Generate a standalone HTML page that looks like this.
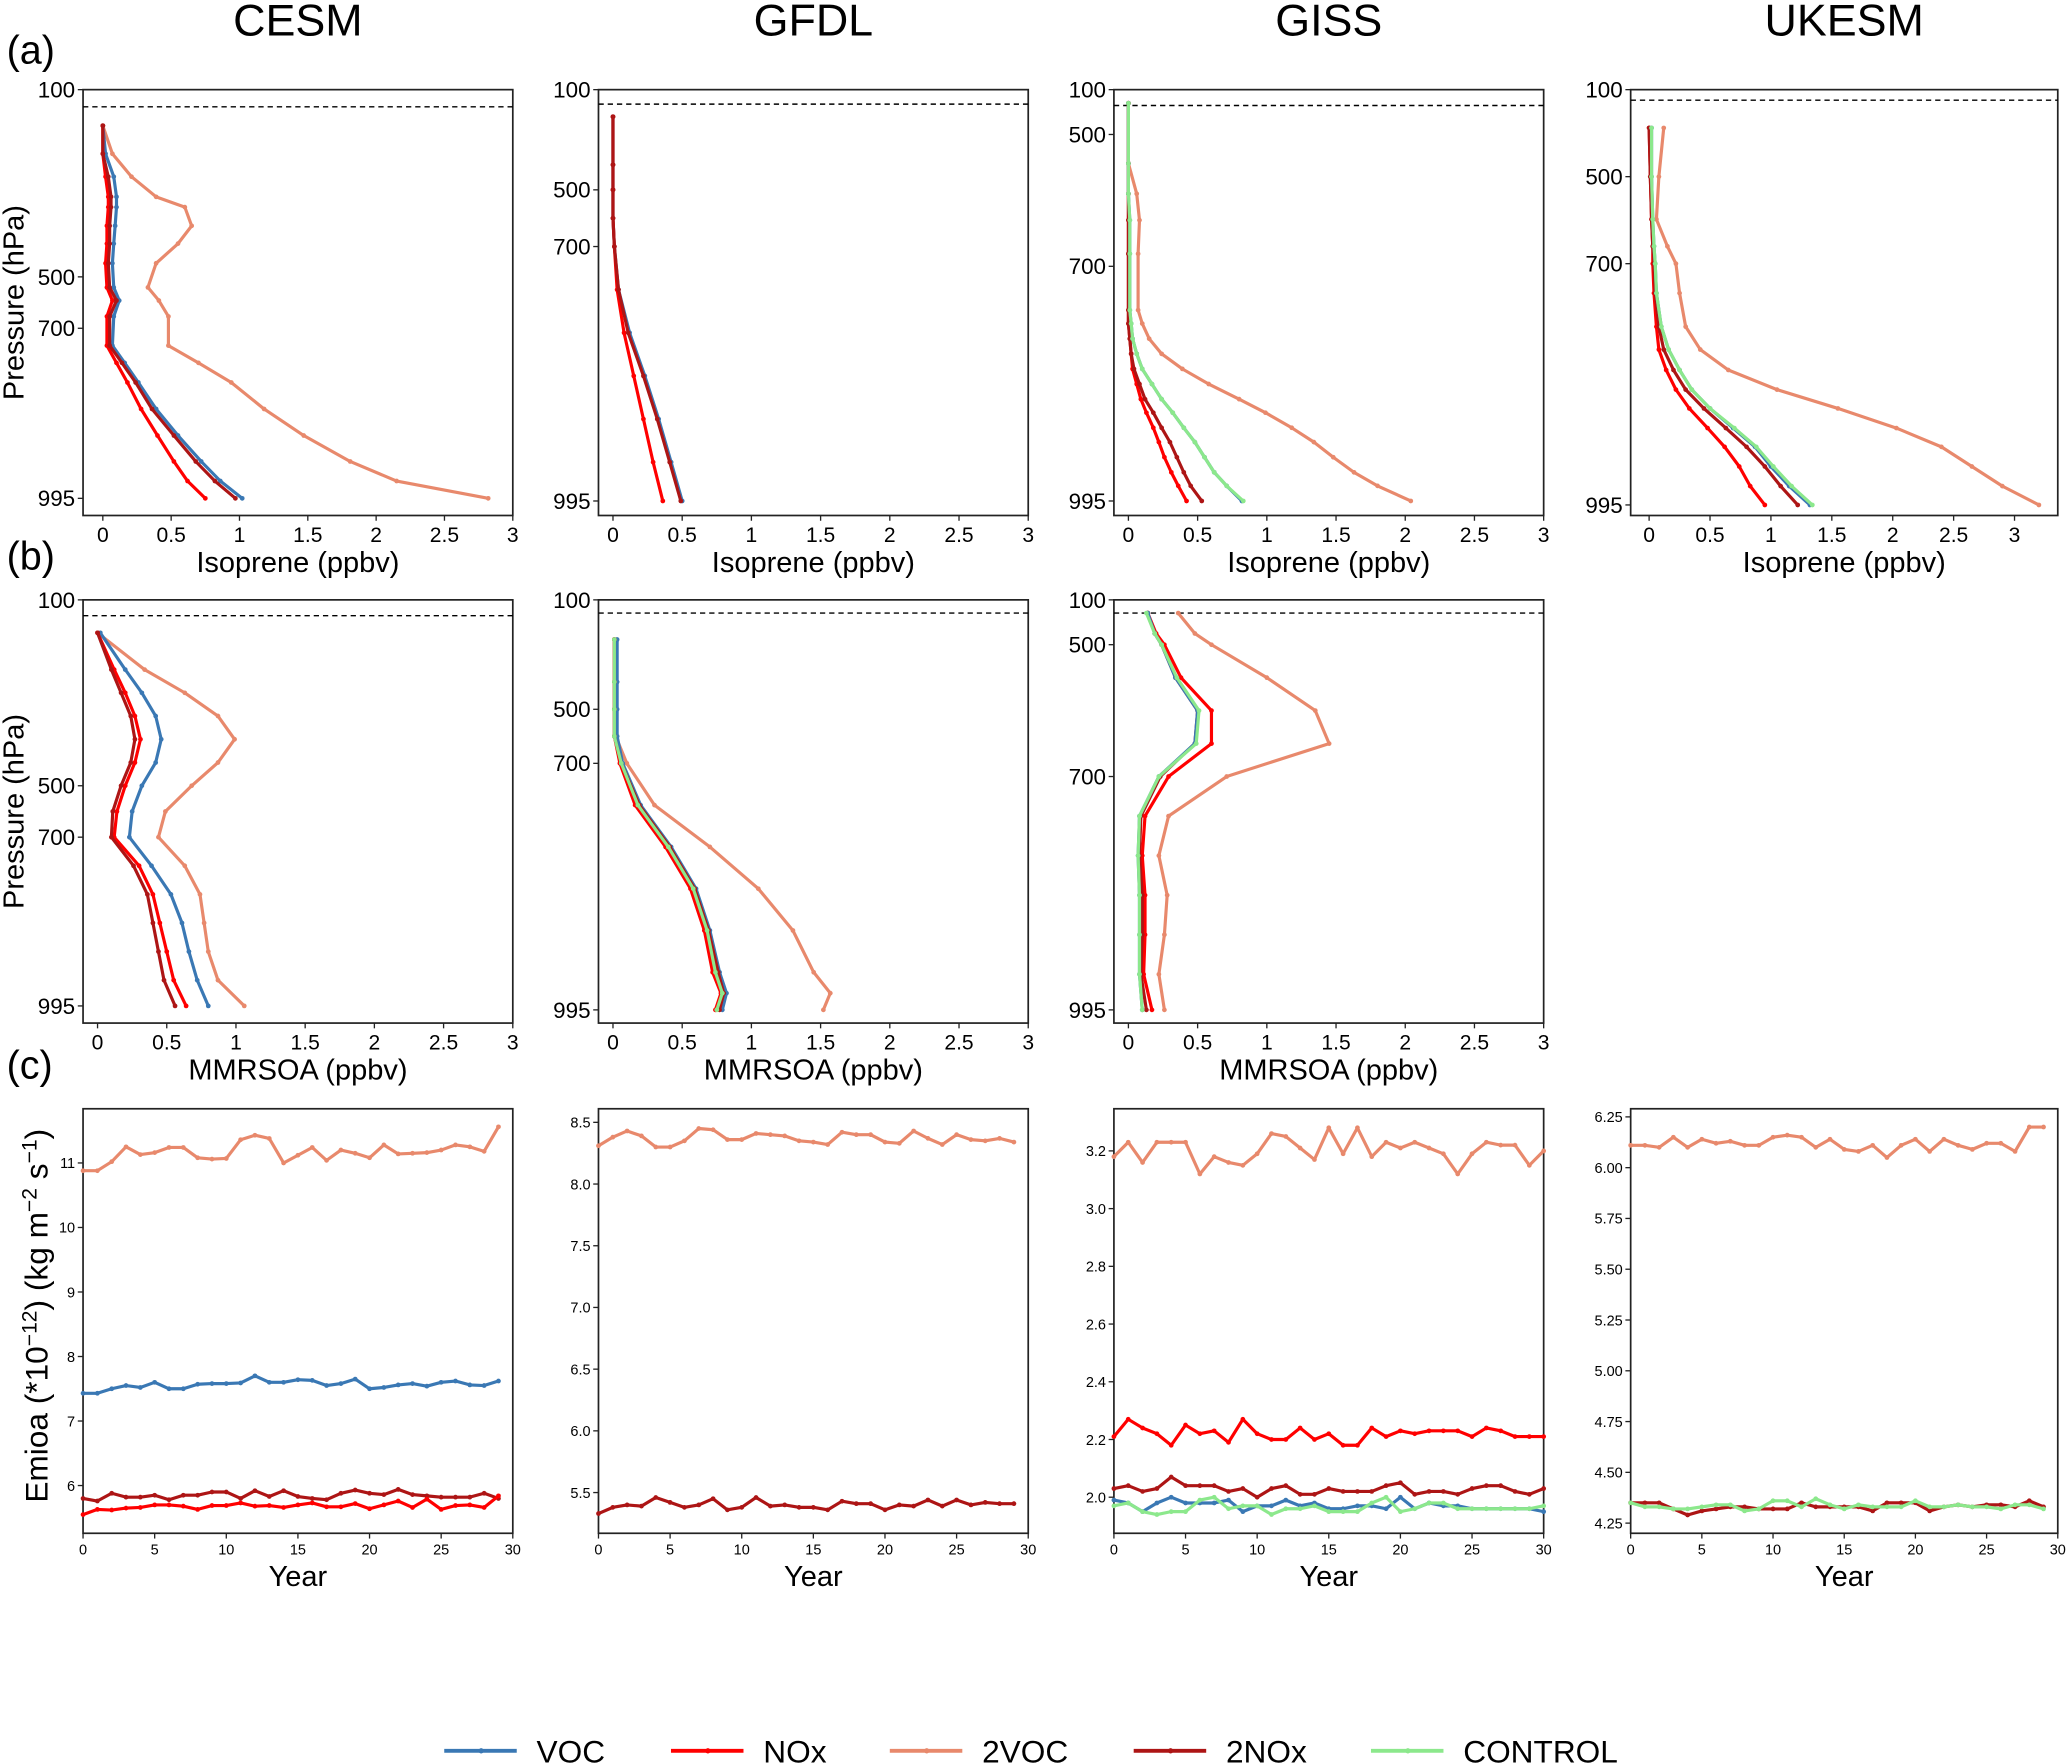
<!DOCTYPE html>
<html><head><meta charset="utf-8"><style>
html,body{margin:0;padding:0;background:#fff}
svg{display:block;font-family:"Liberation Sans",Arial,sans-serif}
</style></head><body>
<svg id="fig" width="2067" height="1764" viewBox="0 0 1568 1338" preserveAspectRatio="none" xmlns="http://www.w3.org/2000/svg"></svg>
<script>
// ---------- data ----------
const seriesNames=["VOC","NOx","2VOC","2NOx","CONTROL"];
const seriesColors={"VOC":"#3a78b4","NOx":"#ff0000","2VOC":"#e8896c","2NOx":"#ad1515","CONTROL":"#8ce88c"};
// row a: isoprene profiles
const aCesmP=[177,237,286,329,351,391,429,471,541,592,654,730,760,794,840,886,931,965,995];
const aCesm2VOC=[0,0.07,0.21,0.39,0.60,0.65,0.55,0.39,0.33,0.41,0.48,0.48,0.70,0.94,1.18,1.47,1.81,2.15,2.82];
const aCesmVOC=[0,0.02,0.08,0.1,0.1,0.09,0.08,0.07,0.08,0.12,0.08,0.07,0.16,0.26,0.39,0.55,0.72,0.86,1.02];
const aCesm2NOx=[0,0,0.04,0.06,0.06,0.05,0.05,0.04,0.05,0.1,0.05,0.05,0.14,0.24,0.36,0.52,0.68,0.82,0.97];
const aCesmNOx=[0,0,0.02,0.04,0.04,0.03,0.03,0.02,0.03,0.07,0.03,0.03,0.10,0.18,0.28,0.40,0.52,0.62,0.75];
const aGfdlP=[208,400,500,600,700,750,800,850,900,950,995];
const aGfdlVOC=[0,0,0,0,0.01,0.04,0.12,0.23,0.33,0.42,0.5];
const aGfdl2NOx=[0,0,0,0,0.01,0.04,0.11,0.22,0.32,0.41,0.49];
const aGfdlNOx=[0,0,0,0,0.01,0.03,0.08,0.15,0.22,0.29,0.36];
const aGissP=[221,544,590,630,681,755,772,791,810,829,848,867,884,903,921,940,959,976,995];
const aGiss2VOC=[0,0,0.06,0.08,0.07,0.07,0.1,0.15,0.24,0.39,0.58,0.8,0.99,1.18,1.34,1.48,1.63,1.8,2.04];
const aGissVOC=[0,0,0,0.01,0.01,0.01,0.02,0.03,0.06,0.1,0.17,0.24,0.32,0.4,0.48,0.55,0.62,0.71,0.82];
const aGissCONTROL=[0,0,0,0.01,0.01,0.01,0.02,0.03,0.06,0.1,0.17,0.24,0.32,0.4,0.48,0.55,0.62,0.71,0.83];
const aGiss2NOx=[0,0,0,0,0,0,0,0.01,0.02,0.04,0.08,0.12,0.18,0.24,0.3,0.35,0.4,0.45,0.53];
const aGissNOx=[0,0,0,0,0,0,0,0.01,0.02,0.03,0.06,0.09,0.13,0.18,0.22,0.26,0.31,0.36,0.42];
const aUkP=[276,500,598,660,700,736,777,805,830,854,877,901,924,948,972,995];
const aUk2VOC=[0.12,0.08,0.06,0.15,0.22,0.25,0.3,0.42,0.65,1.05,1.55,2.03,2.4,2.65,2.9,3.2];
const aUkVOC=[0.02,0.02,0.03,0.04,0.05,0.06,0.1,0.16,0.25,0.35,0.5,0.69,0.87,1.0,1.15,1.32];
const aUkCONTROL=[0.02,0.02,0.03,0.04,0.05,0.06,0.1,0.16,0.25,0.35,0.5,0.7,0.88,1.02,1.17,1.34];
const aUk2NOx=[0,0.01,0.02,0.03,0.04,0.05,0.08,0.12,0.2,0.3,0.45,0.63,0.8,0.95,1.08,1.22];
const aUkNOx=[0,0.01,0.02,0.03,0.03,0.04,0.06,0.08,0.14,0.22,0.33,0.48,0.62,0.74,0.83,0.95];
// row b: MMRSOA profiles
const bCesmP=[171,250,300,350,400,450,500,600,700,750,800,850,900,950,995];
const bCesm2VOC=[0,0.34,0.63,0.87,0.99,0.87,0.68,0.49,0.44,0.63,0.74,0.77,0.8,0.87,1.06];
const bCesmVOC=[0.02,0.2,0.32,0.42,0.46,0.42,0.32,0.25,0.23,0.39,0.53,0.61,0.66,0.72,0.8];
const bCesmNOx=[0,0.12,0.2,0.27,0.31,0.27,0.2,0.14,0.12,0.3,0.4,0.45,0.5,0.55,0.64];
const bCesm2NOx=[0,0.1,0.17,0.24,0.27,0.24,0.17,0.11,0.1,0.26,0.36,0.4,0.44,0.48,0.56];
const bGfdlP=[245,400,500,600,700,750,800,850,900,950,975,995];
const bGfdl2VOC=[0.01,0.01,0.01,0.02,0.1,0.3,0.7,1.05,1.3,1.45,1.57,1.52];
const bGfdlVOC=[0.03,0.03,0.03,0.03,0.07,0.2,0.42,0.6,0.7,0.77,0.82,0.79];
const bGfdl2NOx=[0.01,0.01,0.01,0.01,0.06,0.19,0.41,0.59,0.69,0.76,0.8,0.77];
const bGfdlNOx=[0.01,0.01,0.01,0.01,0.05,0.16,0.38,0.56,0.66,0.72,0.78,0.74];
const bGfdlCONTROL=[0.01,0.01,0.01,0.01,0.06,0.18,0.4,0.58,0.68,0.74,0.79,0.75];
const bGissP=[218,400,500,550,600,650,700,750,800,850,900,950,995];
const bGiss2VOC=[0.36,0.48,0.6,1.0,1.35,1.45,0.71,0.29,0.22,0.28,0.26,0.22,0.26];
const bGissNOx=[0.14,0.2,0.26,0.38,0.6,0.6,0.29,0.12,0.1,0.12,0.12,0.11,0.17];
const bGissVOC=[0.14,0.19,0.24,0.34,0.5,0.48,0.22,0.08,0.07,0.08,0.08,0.08,0.1];
const bGiss2NOx=[0.14,0.19,0.24,0.34,0.5,0.48,0.23,0.09,0.08,0.1,0.1,0.09,0.13];
const bGissCONTROL=[0.13,0.19,0.24,0.35,0.51,0.49,0.22,0.08,0.07,0.08,0.08,0.08,0.1];
// row c: Emioa time series
const cCesm2VOC=[10.88,10.88,11.02,11.25,11.13,11.16,11.24,11.24,11.08,11.06,11.07,11.36,11.43,11.38,11.0,11.12,11.24,11.04,11.2,11.15,11.08,11.28,11.14,11.15,11.16,11.2,11.28,11.25,11.18,11.56];
const cCesmVOC=[7.43,7.43,7.5,7.55,7.52,7.6,7.5,7.5,7.57,7.58,7.58,7.59,7.7,7.6,7.6,7.64,7.63,7.55,7.58,7.65,7.5,7.52,7.56,7.58,7.54,7.6,7.62,7.56,7.55,7.62];
const cCesm2NOx=[5.8,5.76,5.88,5.82,5.82,5.85,5.78,5.85,5.85,5.9,5.9,5.8,5.92,5.83,5.92,5.83,5.8,5.78,5.88,5.93,5.88,5.86,5.94,5.86,5.84,5.82,5.82,5.82,5.88,5.8];
const cCesmNOx=[5.55,5.63,5.62,5.65,5.66,5.7,5.7,5.68,5.63,5.69,5.69,5.73,5.68,5.69,5.66,5.7,5.73,5.67,5.67,5.72,5.64,5.7,5.76,5.66,5.79,5.63,5.69,5.7,5.66,5.84];
const cGfdl2VOC=[8.31,8.38,8.43,8.39,8.3,8.3,8.35,8.45,8.44,8.36,8.36,8.41,8.4,8.39,8.35,8.34,8.32,8.42,8.4,8.4,8.34,8.33,8.43,8.37,8.32,8.4,8.36,8.35,8.37,8.34];
const cGfdl2NOx=[5.33,5.38,5.4,5.39,5.46,5.42,5.38,5.4,5.45,5.36,5.38,5.46,5.39,5.4,5.38,5.38,5.36,5.43,5.41,5.41,5.36,5.4,5.39,5.44,5.39,5.44,5.4,5.42,5.41,5.41];
const cGiss2VOC=[3.18,3.23,3.16,3.23,3.23,3.23,3.12,3.18,3.16,3.15,3.19,3.26,3.25,3.21,3.17,3.28,3.19,3.28,3.18,3.23,3.21,3.23,3.21,3.19,3.12,3.19,3.23,3.22,3.22,3.15,3.2];
const cGissNOx=[2.21,2.27,2.24,2.22,2.18,2.25,2.22,2.23,2.19,2.27,2.22,2.2,2.2,2.24,2.2,2.22,2.18,2.18,2.24,2.21,2.23,2.22,2.23,2.23,2.23,2.21,2.24,2.23,2.21,2.21,2.21];
const cGiss2NOx=[2.03,2.04,2.02,2.03,2.07,2.04,2.04,2.04,2.02,2.03,2.0,2.03,2.04,2.01,2.01,2.03,2.02,2.02,2.02,2.04,2.05,2.01,2.02,2.02,2.01,2.03,2.04,2.04,2.02,2.01,2.03];
const cGissVOC=[1.99,1.98,1.95,1.98,2.0,1.98,1.98,1.98,1.99,1.95,1.97,1.97,1.99,1.97,1.98,1.96,1.96,1.97,1.97,1.96,2.0,1.96,1.98,1.97,1.97,1.96,1.96,1.96,1.96,1.96,1.95];
const cGissCONTROL=[1.97,1.98,1.95,1.94,1.95,1.95,1.99,2.0,1.96,1.97,1.97,1.94,1.96,1.96,1.97,1.95,1.95,1.95,1.98,2.0,1.95,1.96,1.98,1.98,1.96,1.96,1.96,1.96,1.96,1.96,1.97];
const cUk2VOC=[6.11,6.11,6.1,6.15,6.1,6.14,6.12,6.13,6.11,6.11,6.15,6.16,6.15,6.1,6.14,6.09,6.08,6.11,6.05,6.11,6.14,6.08,6.14,6.11,6.09,6.12,6.12,6.08,6.2,6.2];
const cUk2NOx=[4.35,4.35,4.35,4.32,4.29,4.31,4.32,4.33,4.33,4.32,4.32,4.32,4.35,4.33,4.33,4.33,4.33,4.31,4.35,4.35,4.35,4.31,4.33,4.34,4.33,4.34,4.34,4.33,4.36,4.33];
const cUkCONTROL=[4.35,4.33,4.33,4.32,4.32,4.33,4.34,4.34,4.31,4.32,4.36,4.36,4.33,4.37,4.34,4.32,4.34,4.33,4.33,4.33,4.36,4.33,4.33,4.34,4.33,4.33,4.32,4.34,4.34,4.32];
// tick labels
const profXTicks=[0,0.5,1,1.5,2,2.5,3];
const profYTicks=[100,500,700,995];
const yearTicks=[0,5,10,15,20,25,30];
const cCesmYTicks=[6,7,8,9,10,11];
const cGfdlYTicks=[5.5,6.0,6.5,7.0,7.5,8.0,8.5];
const cGissYTicks=[2.0,2.2,2.4,2.6,2.8,3.0,3.2];
const cUkYTicks=[4.25,4.50,4.75,5.00,5.25,5.50,5.75,6.00,6.25];
const models=["CESM","GFDL","GISS","UKESM"];

// ---------- drawing ----------
const NS="http://www.w3.org/2000/svg";
const svg=document.getElementById('fig');
function el(tag,attrs,parent){const e=document.createElementNS(NS,tag);for(const k in attrs)e.setAttribute(k,attrs[k]);(parent||svg).appendChild(e);return e;}
function txt(s,x,y,size,anchor,parent,extra){const t=el('text',Object.assign({x:x,y:y,'font-size':size,'text-anchor':anchor||'start',fill:'#000'},extra||{}),parent);t.textContent=s;return t;}

const colX=[[63,389],[454,780],[845,1171],[1237,1561]];
const rowY=[[68,391],[455,776],[841,1163]];

function linScale(d0,d1,r0,r1){return v=>r0+(v-d0)/(d1-d0)*(r1-r0);}
function pScale(anch){
  return p=>{const P=profYTicks;let i=0;while(i<P.length-2&&p>P[i+1])i++;
    return anch[i]+(p-P[i])/(P[i+1]-P[i])*(anch[i+1]-anch[i]);};
}
function frame(g,x0,x1,y0,y1){
  const r=el('rect',{x:x0,y:y0,width:x1-x0,height:y1-y0,fill:'none',stroke:'#222','stroke-width':1.3},g);
  
  
}
function drawSeries(g,xs,ys,name,sx,sy,lw){
  const c=seriesColors[name];
  const sg=el('g',{},g);
  
  
  let d='';for(let i=0;i<xs.length;i++){d+=(i?'L':'M')+sx(xs[i]).toFixed(2)+','+sy(ys[i]).toFixed(2);}
  el('path',{d:d,fill:'none',stroke:c,'stroke-width':lw||2.4,'stroke-linejoin':'round'},sg);
  for(let i=0;i<xs.length;i++){el('circle',{cx:sx(xs[i]),cy:sy(ys[i]),r:1.8,fill:c},sg);}
}
function profilePanel(name,col,row,zeroOff,xmax,anch,dashY,series){
  const [x0,x1]=colX[col],[y0,y1]=rowY[row];
  const g=el('g',{});
  
  
  const unit=(x1-x0-zeroOff)/xmax;
  const sx=v=>x0+zeroOff+v*unit;
  const sy=pScale(anch);
  frame(g,x0,x1,y0,y1);
  el('line',{x1:x0,x2:x1,y1:dashY,y2:dashY,stroke:'#000','stroke-width':1.1,'stroke-dasharray':'4,3'},g);
  profXTicks.forEach(t=>{const x=sx(t);el('line',{x1:x,x2:x,y1:y1,y2:y1+4,stroke:'#222','stroke-width':1},g);
    const tl=txt(String(t),x,y1+20,16,'middle',g);});
  profYTicks.forEach((t,i)=>{const y=anch[i];el('line',{x1:x0-4,x2:x0,y1:y,y2:y,stroke:'#222','stroke-width':1},g);
    const tl=txt(String(t),x0-6,y+6,17,'end',g);});
  series.forEach(s=>drawSeries(g,s[1],s[2],s[0],sx,sy,2.4));
  return g;
}
function tsPanel(name,col,ymin,ymax,yt,dec,series){
  const [x0,x1]=colX[col],[y0,y1]=rowY[2];
  const g=el('g',{});
  
  
  const sx=linScale(0,30,x0,x1), sy=linScale(ymin,ymax,y1,y0);
  frame(g,x0,x1,y0,y1);
  yearTicks.forEach(t=>{const x=sx(t);el('line',{x1:x,x2:x,y1:y1,y2:y1+4,stroke:'#222'},g);
    const tl=txt(String(t),x,y1+16,11,'middle',g);});
  yt.forEach(t=>{const y=sy(t);el('line',{x1:x0-4,x2:x0,y1:y,y2:y,stroke:'#222'},g);
    const tl=txt(t.toFixed(dec),x0-6,y+4,11,'end',g);});
  series.forEach(s=>{const xs=s[1].map((v,i)=>i);drawSeries(g,xs,s[1],s[0],sx,sy,2.4);});
  const yl=txt('Year',(x0+x1)/2,y1+40,22,'middle',g);
  
  
}

models.forEach((m,i)=>{const t=txt(m,(colX[i][0]+colX[i][1])/2,27,34,'middle');
  
  });
[['(a)',48],['(b)',432],['(c)',818]].forEach(p=>{const t=txt(p[0],5,p[1],30,'start');
  
  });

profilePanel('isoprene-cesm',0,0,15,3,[68,210,249,378],81,[['2VOC',aCesm2VOC,aCesmP],['VOC',aCesmVOC,aCesmP],['NOx',aCesmNOx,aCesmP],['2NOx',aCesm2NOx,aCesmP]]);
profilePanel('isoprene-gfdl',1,0,11,3,[68,144,187,380],79,[['VOC',aGfdlVOC,aGfdlP],['NOx',aGfdlNOx,aGfdlP],['2NOx',aGfdl2NOx,aGfdlP]]);
profilePanel('isoprene-giss',2,0,11,3,[68,102,202,380],80,[['2VOC',aGiss2VOC,aGissP],['NOx',aGissNOx,aGissP],['2NOx',aGiss2NOx,aGissP],['VOC',aGissVOC,aGissP],['CONTROL',aGissCONTROL,aGissP]]);
profilePanel('isoprene-ukesm',3,0,14,3.355,[68,134,200,383],76,[['2VOC',aUk2VOC,aUkP],['NOx',aUkNOx,aUkP],['2NOx',aUk2NOx,aUkP],['VOC',aUkVOC,aUkP],['CONTROL',aUkCONTROL,aUkP]]);
profilePanel('mmrsoa-cesm',0,1,11,3,[455,596,635,763],467,[['2VOC',bCesm2VOC,bCesmP],['VOC',bCesmVOC,bCesmP],['NOx',bCesmNOx,bCesmP],['2NOx',bCesm2NOx,bCesmP]]);
profilePanel('mmrsoa-gfdl',1,1,11,3,[455,538,579,766],465,[['2VOC',bGfdl2VOC,bGfdlP],['VOC',bGfdlVOC,bGfdlP],['NOx',bGfdlNOx,bGfdlP],['2NOx',bGfdl2NOx,bGfdlP],['CONTROL',bGfdlCONTROL,bGfdlP]]);
profilePanel('mmrsoa-giss',2,1,11,3,[455,489,589,766],465,[['2VOC',bGiss2VOC,bGissP],['NOx',bGissNOx,bGissP],['2NOx',bGiss2NOx,bGissP],['VOC',bGissVOC,bGissP],['CONTROL',bGissCONTROL,bGissP]]);

for(let i=0;i<4;i++){const t=txt('Isoprene (ppbv)',(colX[i][0]+colX[i][1])/2,rowY[0][1]+43,22,'middle');
  }
for(let i=0;i<3;i++){const t=txt('MMRSOA (ppbv)',(colX[i][0]+colX[i][1])/2,rowY[1][1]+43,22,'middle');
  }
[0,1].forEach(r=>{const cy=(rowY[r][0]+rowY[r][1])/2;const t=txt('Pressure (hPa)',18,cy,22,'middle',null,{transform:'rotate(-90 18 '+cy+')'});
  });

tsPanel('emioa-cesm',0,5.26,11.84,cCesmYTicks,0,[['2VOC',cCesm2VOC],['VOC',cCesmVOC],['2NOx',cCesm2NOx],['NOx',cCesmNOx]]);
tsPanel('emioa-gfdl',1,5.17,8.61,cGfdlYTicks,1,[['2VOC',cGfdl2VOC],['2NOx',cGfdl2NOx]]);
tsPanel('emioa-giss',2,1.875,3.346,cGissYTicks,1,[['2VOC',cGiss2VOC],['NOx',cGissNOx],['2NOx',cGiss2NOx],['VOC',cGissVOC],['CONTROL',cGissCONTROL]]);
tsPanel('emioa-ukesm',3,4.2,6.29,cUkYTicks,2,[['2VOC',cUk2VOC],['2NOx',cUk2NOx],['CONTROL',cUkCONTROL]]);
(function(){const cy=998;const t=el('text',{x:36,y:cy,'font-size':24,'text-anchor':'middle',transform:'rotate(-90 36 '+cy+')'});
  t.innerHTML='Emioa (*10<tspan baseline-shift="super" font-size="16">−12</tspan>) (kg m<tspan baseline-shift="super" font-size="16">−2</tspan> s<tspan baseline-shift="super" font-size="16">−1</tspan>)';
  
  })();

const legX=[337,509,675,860,1040];
const lg=el('g',{});


seriesNames.forEach((n,i)=>{const x=legX[i];const c=seriesColors[n];
  const eg=el('g',{},lg);
  
  
  el('line',{x1:x,x2:x+55,y1:1328,y2:1328,stroke:c,'stroke-width':3},eg);
  el('circle',{cx:x+28,cy:1328,r:2,fill:c},eg);
  txt(n,x+70,1337,24,'start',eg);
});
</script>
</body></html>
